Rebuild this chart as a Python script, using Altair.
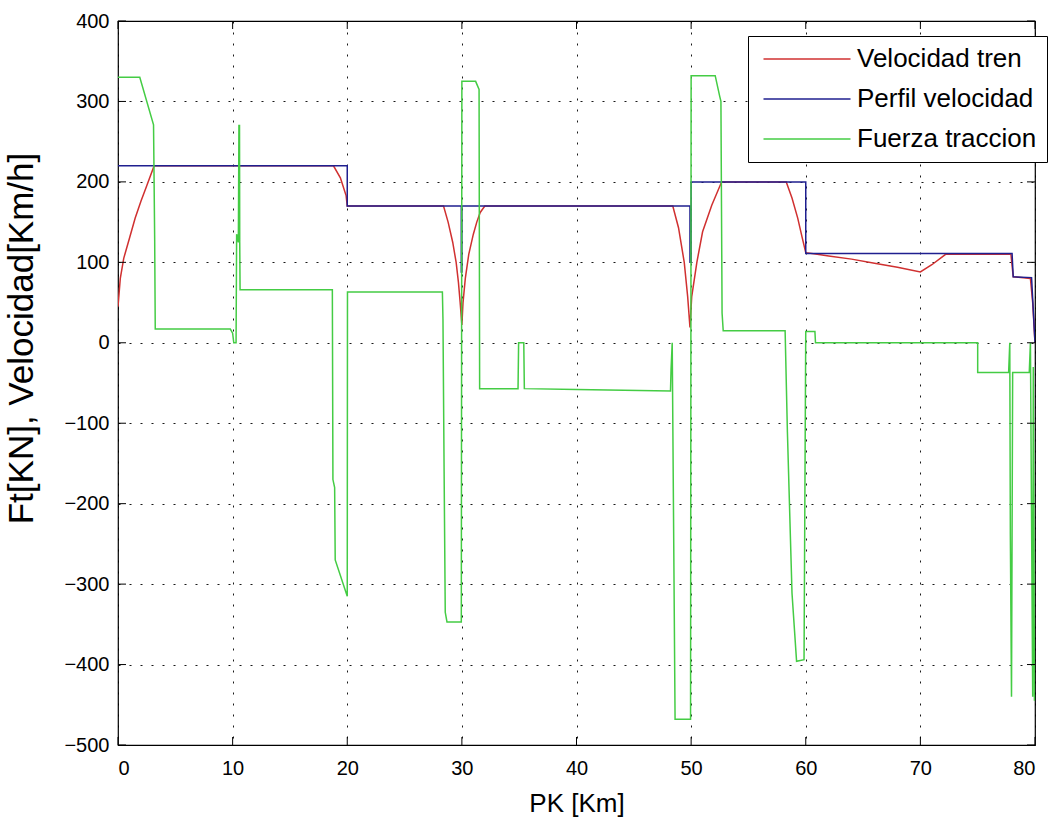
import altair as alt
import pandas as pd

# ---- data ----
pk_tren = [0, 0.2, 0.5, 1.0, 1.5, 2.0, 2.5, 3.1, 3.2, 18.8, 19.4, 19.9, 20.0,
           28.4, 28.8, 29.2, 29.5, 29.7, 29.85, 30.0, 30.1, 30.3, 30.6, 31.0, 31.3, 31.6, 32.0,
           48.4, 48.9, 49.4, 49.7, 49.9, 50.05, 50.5, 51.0, 51.8, 52.6, 52.7,
           58.3, 58.8, 59.3, 59.7, 60.0, 61.0, 62.0, 64.0, 66.0, 68.0, 70.0, 71.0, 72.2,
           77.9, 78.1, 79.6, 79.8, 80.0]
vel_tren = [45, 80, 105, 130, 155, 176, 195, 218, 220, 220, 205, 183, 170,
            170, 150, 125, 100, 75, 50, 22, 50, 80, 110, 135, 150, 162, 170,
            170, 143, 100, 57, 19, 57, 100, 138, 171, 198, 200,
            200, 180, 155, 130, 112, 110, 108, 104, 99, 94, 88, 97, 110,
            110, 82, 80, 50, 0]

pk_perfil = [0, 20, 20, 29.95, 29.95, 30.0, 30.0, 49.9, 49.9, 50.0, 50.0,
             60.0, 60.0, 78.0, 78.1, 79.7, 80.0]
vel_perfil = [220, 220, 170, 170, 88, 88, 170, 170, 100, 100, 200,
              200, 111, 111, 82, 81, 0]

pk_fuerza = [0, 1.9, 3.1, 3.2, 3.25, 9.8, 10.0, 10.1, 10.3, 10.35, 10.5, 10.55, 10.6, 10.62, 10.65,
             18.7, 18.75, 18.9, 18.95, 20.0, 20.02, 28.3, 28.35, 28.45, 28.55, 28.7, 29.95,
             30.0, 31.2, 31.5, 31.55, 34.9, 34.95, 35.4, 35.45, 40.0, 48.2, 48.25, 48.35,
             48.6, 49.95, 50.0, 52.1, 52.5, 52.6, 52.7, 52.8, 58.2, 58.4, 58.8, 59.2, 59.85,
             60.0, 60.8, 60.85, 75.0, 75.0, 77.7, 77.8, 77.85, 77.95, 78.0, 78.05,
             79.5, 79.6, 79.8, 79.85, 79.95, 80.0]
fuerza = [330, 330, 271, 128, 17, 17, 12, 0, 0, 135, 125, 270, 270, 125, 66,
          66, -170, -180, -270, -315, 63, 63, 30, -160, -335, -347, -347,
          325, 325, 315, -57, -57, 0, 0, -57, -58, -60, -33, 0,
          -468, -468, 332, 332, 306, 300, 37, 15, 15, -111, -311, -396, -394,
          14, 14, 0, 0, -37, -37, 0, -240, -440, -240, -37,
          -37, 0, -440, -30, -445, -350]

x_ticks = [0, 10, 20, 30, 40, 50, 60, 70, 80]
y_ticks = [-500, -400, -300, -200, -100, 0, 100, 200, 300, 400]
series_names = ["Velocidad tren", "Perfil velocidad", "Fuerza traccion"]
series_colors = ["#d03030", "#1f1f8f", "#44cc44"]

W, H = 917, 724
FONT = "Liberation Sans"


def frame(xs, ys, name):
    return pd.DataFrame({"pk": xs, "v": ys, "serie": name, "i": list(range(len(xs)))})


xscale = alt.Scale(domain=[0, 80], nice=False, zero=False)
yscale = alt.Scale(domain=[-500, 400], nice=False, zero=False)

xaxis = alt.Axis(values=x_ticks, grid=True, gridDash=[2, 9], gridColor="black", gridOpacity=0.9,
                 ticks=False, domain=False, labelFont=FONT, labelFontSize=20, labelColor="black",
                 labelPadding=13, title="PK [Km]", titleFont=FONT, titleFontSize=26,
                 titleFontWeight="normal", titleColor="black", titlePadding=12, format="d")
yaxis = alt.Axis(values=y_ticks, grid=True, gridDash=[2, 9], gridColor="black", gridOpacity=0.9,
                 ticks=False, domain=False, labelFont=FONT, labelFontSize=20, labelColor="black",
                 labelPadding=9, title="Ft[KN], Velocidad[Km/h]", titleFont=FONT, titleFontSize=35,
                 titleFontWeight="normal", titleColor="black", titleX=-97, titleY=317,
                 titleAngle=270, titleAlign="center", titleBaseline="middle", format="d")

color = alt.Color("serie:N",
                  scale=alt.Scale(domain=series_names, range=series_colors),
                  legend=alt.Legend(title=None, orient="none", legendX=630, legendY=15,
                                    direction="vertical", symbolType="M-4.35,0H4.35", symbolSize=400,
                                    symbolOffset=36, symbolStrokeWidth=1.5, symbolFillColor="transparent",
                                    labelFont=FONT, labelFontSize=26, labelOffset=37, labelLimit=400,
                                    labelColor="black", fillColor="white", strokeColor="black",
                                    padding=10, rowPadding=14, cornerRadius=0))


def line(xs, ys, name):
    return alt.Chart(frame(xs, ys, name)).mark_line(strokeWidth=1.5, clip=True).encode(
        x=alt.X("pk:Q", scale=xscale, axis=xaxis),
        y=alt.Y("v:Q", scale=yscale, axis=yaxis),
        color=color,
        order=alt.Order("i:Q"),
    )


xt = pd.DataFrame({"pk": x_ticks})
yt = pd.DataFrame({"v": y_ticks})
tick_bottom = alt.Chart(xt).mark_rule(color="black", strokeWidth=1).encode(
    x=alt.X("pk:Q", scale=xscale), y=alt.value(H), y2=alt.value(H - 8))
tick_top = alt.Chart(xt).mark_rule(color="black", strokeWidth=1).encode(
    x=alt.X("pk:Q", scale=xscale), y=alt.value(0), y2=alt.value(8))
tick_left = alt.Chart(yt).mark_rule(color="black", strokeWidth=1).encode(
    y=alt.Y("v:Q", scale=yscale), x=alt.value(0), x2=alt.value(8))
tick_right = alt.Chart(yt).mark_rule(color="black", strokeWidth=1).encode(
    y=alt.Y("v:Q", scale=yscale), x=alt.value(W), x2=alt.value(W - 8))

chart = alt.layer(
    line(pk_tren, vel_tren, series_names[0]),
    line(pk_perfil, vel_perfil, series_names[1]),
    line(pk_fuerza, fuerza, series_names[2]),
    tick_bottom, tick_top, tick_left, tick_right,
).properties(
    width=W, height=H,
    autosize=alt.AutoSizeParams(type="none"),
    padding={"left": 118, "top": 21, "right": 26, "bottom": 75},
    background="white",
).configure_view(stroke="black", strokeWidth=1.2)

chart.save("out.html", embed_options={"renderer": "svg", "actions": False})
